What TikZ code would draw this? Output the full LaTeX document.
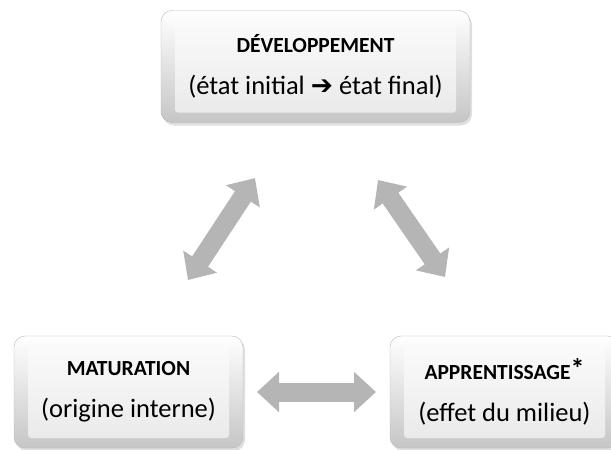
\documentclass[tikz,border=0pt]{standalone}
\usepackage{fontspec}
\setmainfont{Carlito}
\newfontfamily\symfont{DejaVu Sans}
\usetikzlibrary{arrows.meta,shadows}

\begin{document}
\begin{tikzpicture}[x=1pt,y=-1pt,
    bloc/.style={rounded corners=11pt, draw=gray!55, top color=white, bottom color=gray!45,
        minimum height=112pt, align=center, font=\fontsize{26.5}{42}\selectfont,
        drop shadow={shadow xshift=2pt, shadow yshift=-3pt, opacity=0.25},
        path picture={\shade[top color=gray!2, bottom color=gray!18, rounded corners=3pt]
            ([shift={(14pt,-11pt)}]path picture bounding box.north west) rectangle
            ([shift={(-14pt,10pt)}]path picture bounding box.south east);}},
    fleche/.style={line width=19pt, draw=gray!58,
        {Triangle[length=22pt,width=39pt]}-{Triangle[length=22pt,width=39pt]}}]
    \useasboundingbox (0,0) rectangle (611,450);
    \node[bloc, minimum width=309pt] (dev) at (315.5,66.5)
        {\textbf{\fontsize{21.5}{42}\selectfont DÉVELOPPEMENT}\\(état initial {\symfont\bfseries ➔} état final)};
    \node[bloc, minimum width=229pt] (mat) at (128.5,392)
        {\textbf{\fontsize{21.5}{42}\selectfont MATURATION}\\(origine interne)};
    \node[bloc, minimum width=229pt] (app) at (504.5,392)
        {\textbf{\fontsize{21.5}{42}\selectfont APPRENTISSAGE\raisebox{1pt}{\fontsize{28}{28}\selectfont*}}\\(effet du milieu)};
    % bouts des fleches
    \coordinate (g1) at (188,280); \coordinate (g2) at (255,178);
    \coordinate (d1) at (378,180); \coordinate (d2) at (445,277);
    \coordinate (h1) at (257,392); \coordinate (h2) at (376,392);
    \draw[fleche] (g1) -- (g2);
    \draw[fleche] (d1) -- (d2);
    \draw[fleche] (h1) -- (h2);
\end{tikzpicture}
\end{document}
